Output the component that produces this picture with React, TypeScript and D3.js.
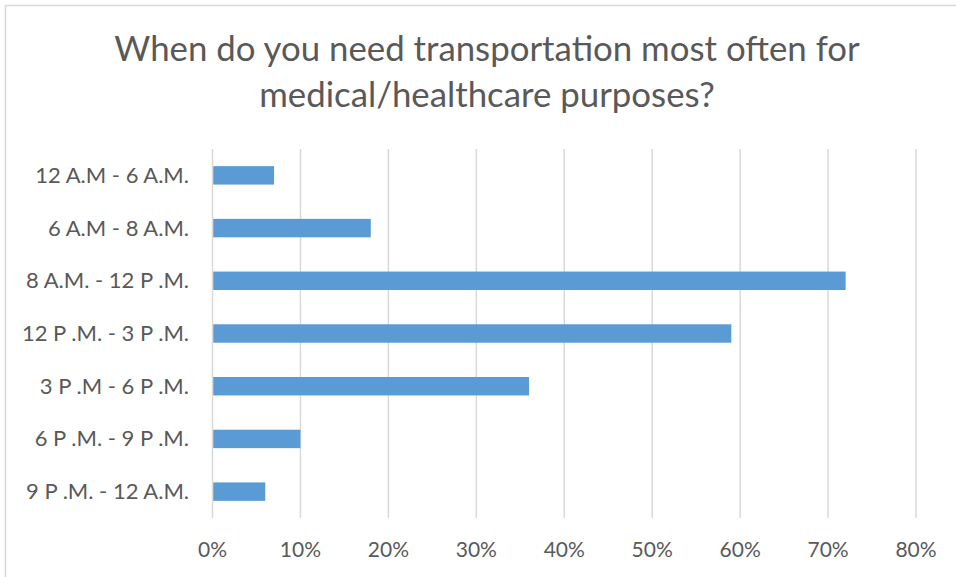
import { useEffect, useRef } from "react";
import * as d3 from "d3";

const categories = [
  "12 A.M - 6 A.M.",
  "6 A.M - 8 A.M.",
  "8 A.M. - 12 P .M.",
  "12 P .M. - 3 P .M.",
  "3 P .M - 6 P .M.",
  "6 P .M. - 9 P .M.",
  "9 P .M. - 12 A.M.",
];
const values = [0.07, 0.18, 0.72, 0.59, 0.36, 0.1, 0.06];
const xTicks = [0, 0.1, 0.2, 0.3, 0.4, 0.5, 0.6, 0.7, 0.8];
const titleLines = [
  "When do you need transportation most often for",
  "medical/healthcare purposes?",
];

export default function App() {
  const svgRef = useRef<SVGSVGElement>(null);

  useEffect(() => {
    const W = 956;
    const H = 577;
    const font = "Lato, 'Open Sans', sans-serif";
    const textColor = "#595959";

    const svg = d3.select(svgRef.current);
    svg.selectAll("*").remove();
    svg.attr("width", W).attr("height", H);

    svg
      .append("rect")
      .attr("x", 5.5)
      .attr("y", 5.5)
      .attr("width", W + 10)
      .attr("height", H + 10)
      .attr("fill", "#fff")
      .attr("stroke", "#d9d9d9")
      .attr("stroke-width", 1.5);

    // Title
    svg
      .append("g")
      .selectAll("text")
      .data(titleLines)
      .enter()
      .append("text")
      .attr("x", 487)
      .attr("y", (_, i) => 61 + i * 45.5)
      .attr("text-anchor", "middle")
      .attr("font-family", font)
      .attr("font-size", 34.8)
      .attr("fill", textColor)
      .text((d) => d);

    const x = d3.scaleLinear().domain([0, 0.8]).range([212.5, 916]);
    const y = d3
      .scaleBand<string>()
      .domain(categories)
      .range([149, 518])
      .paddingInner(0.65)
      .paddingOuter(0.325);

    // Gridlines
    svg
      .append("g")
      .selectAll("line")
      .data(xTicks)
      .enter()
      .append("line")
      .attr("x1", (d) => x(d))
      .attr("x2", (d) => x(d))
      .attr("y1", 149)
      .attr("y2", 518)
      .attr("stroke", "#d9d9d9")
      .attr("stroke-width", 1.5);

    // Bars
    svg
      .append("g")
      .selectAll("rect")
      .data(values)
      .enter()
      .append("rect")
      .attr("x", x(0) + 0.75)
      .attr("y", (_, i) => y(categories[i])!)
      .attr("width", (d) => x(d) - x(0) - 0.75)
      .attr("height", y.bandwidth())
      .attr("fill", "#5b9bd5");

    // Axis labels
    svg
      .append("g")
      .selectAll("text")
      .data(xTicks)
      .enter()
      .append("text")
      .attr("x", (d) => x(d))
      .attr("y", 557)
      .attr("text-anchor", "middle")
      .attr("font-family", font)
      .attr("font-size", 21)
      .attr("fill", textColor)
      .text((d) => d3.format(".0%")(d));

    svg
      .append("g")
      .selectAll("text")
      .data(categories)
      .enter()
      .append("text")
      .attr("x", 189)
      .attr("y", (d) => y(d)! + y.bandwidth() / 2 + 7.5)
      .attr("text-anchor", "end")
      .attr("font-family", font)
      .attr("font-size", 22)
      .attr("fill", textColor)
      .text((d) => d);
  }, []);

  return (
    <svg
      ref={svgRef}
      style={{ position: "absolute", left: 0, top: 0, display: "block" }}
    />
  );
}
